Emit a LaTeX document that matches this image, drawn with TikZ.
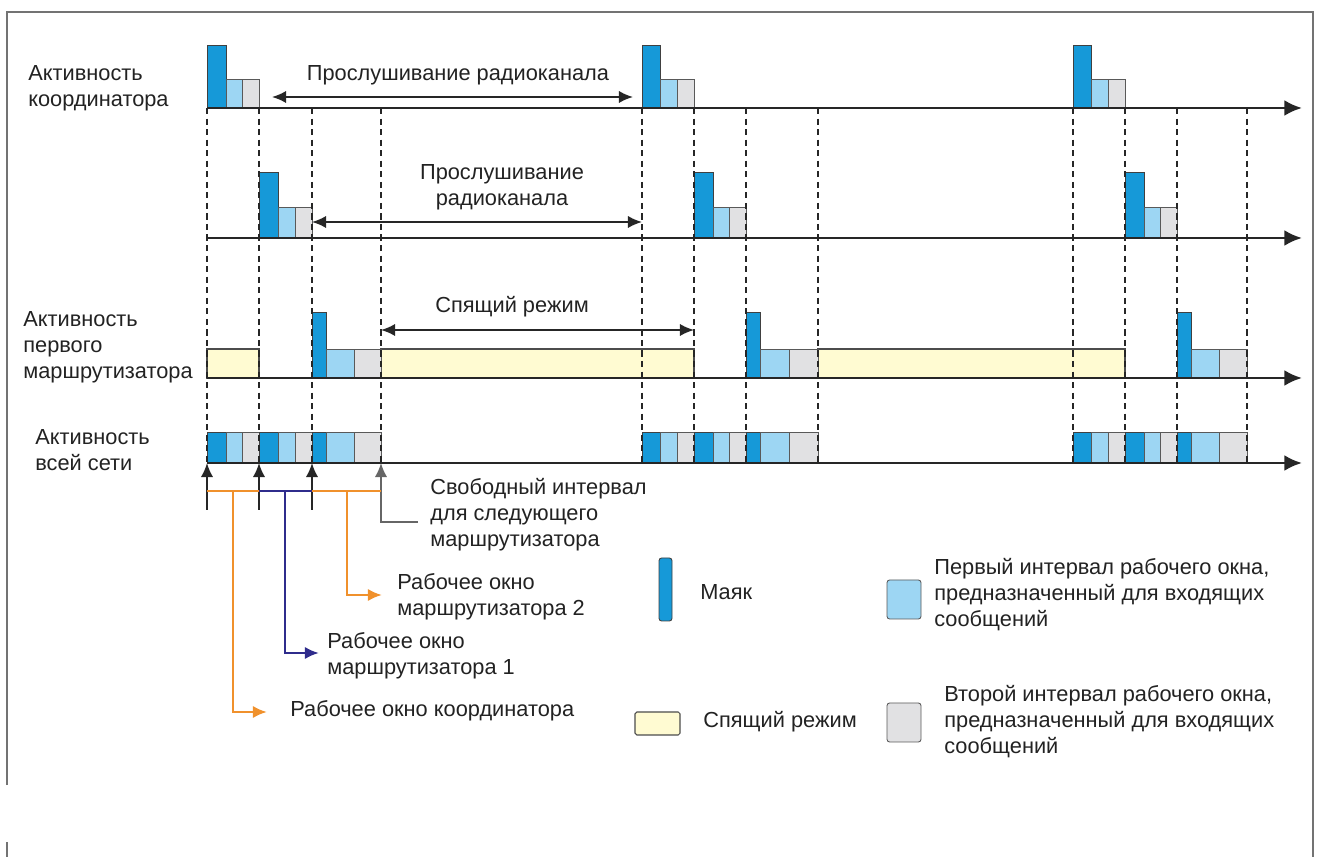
\documentclass[tikz,border=0pt]{standalone}
\usepackage{fontspec}
\setmainfont{Liberation Sans}
\usetikzlibrary{arrows.meta}
\definecolor{bcn}{HTML}{1699D8}
\definecolor{inone}{HTML}{9DD6F3}
\definecolor{intwo}{HTML}{E1E1E3}
\definecolor{slp}{HTML}{FFFBD2}
\definecolor{wcoord}{HTML}{F0912C}
\definecolor{wrout}{HTML}{2F2C8C}
\definecolor{txt}{HTML}{222222}
\begin{document}
\begin{tikzpicture}[x=0.02cm,y=-0.02cm,>={Latex[length=8pt,width=7pt]},
	lbl/.style={font=\fontsize{12.4}{14.8}\selectfont, text=txt, inner sep=0pt, align=left, anchor=west},
	beacon/.style={fill=bcn, draw=black!75, line width=0.5pt},
	slotA/.style={fill=inone, draw=black!65, line width=0.5pt},
	slotB/.style={fill=intwo, draw=black!65, line width=0.5pt},
	sleepbox/.style={fill=slp, draw=black!70, line width=0.6pt},
	timeaxis/.style={line width=1.5pt, black!85, ->, >={Latex[length=10pt,width=9pt]}},
	guide/.style={dashed, dash pattern=on 3.5pt off 2.5pt, black!85, line width=0.75pt},
	span/.style={<->, line width=1.1pt, black!85}]
	\useasboundingbox (0,0) rectangle (1322,857);
	% frame
	\draw[line width=1.2pt, black!55] (7,785) -- (7,12) -- (1313,12) -- (1313,857);
	\draw[line width=1.2pt, black!55] (7,842) -- (7,857);
	%
	% sleep mode of the first router
	\draw[sleepbox] (207,349) rectangle (259,378);
	\draw[sleepbox] (381,349) rectangle (694,378);
	\draw[sleepbox] (818,349) rectangle (1125,378);
	%
	% coordinator
	\foreach \s/\a/\b/\e in {207/226/242/259, 642/660/677/694, 1073/1091/1108/1125} {
		\draw[beacon] (\s,45) rectangle (\a,108);
		\draw[slotA] (\a,79) rectangle (\b,108);
		\draw[slotB] (\b,79) rectangle (\e,108);
	}
	% second row
	\foreach \s/\a/\b/\e in {259/278/295/312, 694/713/729/746, 1125/1144/1160/1177} {
		\draw[beacon] (\s,172) rectangle (\a,238);
		\draw[slotA] (\a,207) rectangle (\b,238);
		\draw[slotB] (\b,207) rectangle (\e,238);
	}
	% first router
	\foreach \s/\a/\b/\e in {312/326/354/381, 746/760/789/818, 1177/1191/1219/1247} {
		\draw[beacon] (\s,312) rectangle (\a,378);
		\draw[slotA] (\a,349) rectangle (\b,378);
		\draw[slotB] (\b,349) rectangle (\e,378);
	}
	% whole network
	\foreach \s/\a/\b/\e in {207/226/242/259, 259/278/295/312, 312/326/354/381,
			642/660/677/694, 694/713/729/746, 746/760/789/818,
			1073/1091/1108/1125, 1125/1144/1160/1177, 1177/1191/1219/1247} {
		\draw[beacon] (\s,432) rectangle (\a,463);
		\draw[slotA] (\a,432) rectangle (\b,463);
		\draw[slotB] (\b,432) rectangle (\e,463);
	}
	%
	\foreach \t in {207,259,312,381,642,694,746,818,1073,1125,1177,1247}
		\draw[guide] (\t,108) -- (\t,463);
	%
	% time axes
	\foreach \y in {108,238,378,463}
		\draw[timeaxis] (207,\y) -- (1302,\y);
	%
	% row labels
	\node[lbl] (rowcoord) at (28,88) {Активность\\координатора};
	\node[lbl] (rowrout) at (23,347) {Активность\\первого\\маршрутизатора};
	\node[lbl] (rownet) at (35,450) {Активность\\всей сети};
	%
	% listening and sleeping spans
	\node[lbl, anchor=center] (listenA) at (458,75) {Прослушивание радиоканала};
	\draw[span] (272,97) -- (633,97);
	\node[lbl, anchor=center, align=center] (listenB) at (502,187) {Прослушивание\\радиоканала};
	\draw[span] (312,222) -- (642,222);
	\node[lbl, anchor=center] (sleeptxt) at (512,307) {Спящий режим};
	\draw[span] (381,330) -- (694,330);
	%
	% working windows
	\foreach \t in {207,259,312}
		\draw[->, line width=1pt, black!85] (\t,510) -- (\t,463);
	\draw[->, line width=1pt, black!60] (418,522) -- (381,522) -- (381,463);
	\draw[line width=1.5pt, wcoord] (207,491) -- (259,491);
	\draw[line width=1.5pt, wrout] (259,491) -- (312,491);
	\draw[line width=1.5pt, wcoord] (312,491) -- (381,491);
	\draw[->, line width=1.5pt, wcoord] (233,491) |- (267,712);
	\draw[->, line width=1.5pt, wrout] (285,491) |- (319,653);
	\draw[->, line width=1.5pt, wcoord] (347,491) |- (382,595);
	\node[lbl] (freeslot) at (430,515) {Свободный интервал\\для следующего\\маршрутизатора};
	\node[lbl] (winrtwo) at (397,597) {Рабочее окно\\маршрутизатора 2};
	\node[lbl] (winrone) at (327,656) {Рабочее окно\\маршрутизатора 1};
	\node[lbl] (wincoord) at (290,711) {Рабочее окно координатора};
	%
	% legend
	\draw[beacon, rounded corners=1.5pt] (659,558) rectangle (672,621);
	\node[lbl] (legbcn) at (700,592) {Маяк};
	\draw[slotA, rounded corners=1.5pt] (887,580) rectangle (921,619);
	\node[lbl] (legA) at (934,595) {Первый интервал рабочего окна,\\предназначенный для входящих\\сообщений};
	\draw[sleepbox, rounded corners=1pt] (635,712) rectangle (680,735);
	\node[lbl] (legslp) at (703,722) {Спящий режим};
	\draw[slotB, rounded corners=1.5pt] (887,703) rectangle (921,742);
	\node[lbl] (legB) at (944,722) {Второй интервал рабочего окна,\\предназначенный для входящих\\сообщений};
\end{tikzpicture}
\end{document}
